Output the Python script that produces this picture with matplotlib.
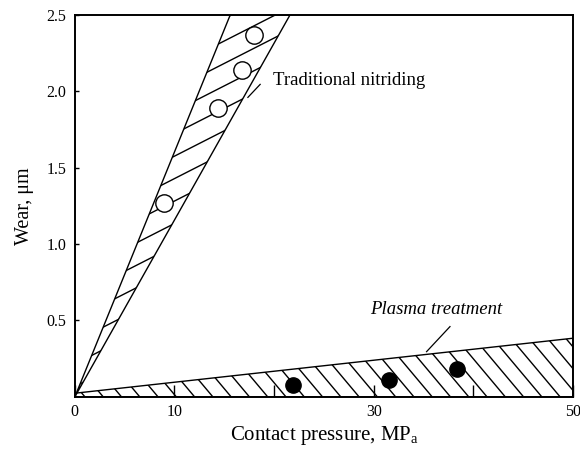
import numpy as np
import matplotlib
matplotlib.use("Agg")
import matplotlib.pyplot as plt
from matplotlib.patches import Polygon
from matplotlib.collections import LineCollection

plt.rcParams['font.family'] = ['Liberation Serif', 'DejaVu Serif']

# open circles - traditional nitriding
nit_x = [9.0, 14.4, 16.8, 17.95]
nit_y = [1.27, 1.89, 2.14, 2.37]
# filled circles - plasma treatment
pla_x = [21.9, 31.5, 38.4]
pla_y = [0.08, 0.11, 0.185]

# scatter band outlines
nit_band = [(0, 0), (15.6, 2.5), (21.6, 2.5)]
pla_band = [(0, 0), (0, 0.024), (50, 0.384), (50, 0)]

xticks = [0, 10, 20, 30, 40, 50]
xlabels = ['0', '10', '', '30', '', '50']
yticks = [0.5, 1.0, 1.5, 2.0, 2.5]
ylabels = ['0.5', '1.0', '1.5', '2.0', '2.5']

fig = plt.figure(figsize=(5.8, 4.5), dpi=100)
ax = fig.add_axes([0.129, 0.118, 0.859, 0.849])
ax.set_xlim(0, 50)
ax.set_ylim(0, 2.5)

W = 0.859 * 580
H = 0.849 * 450


def hatch(ax, patch, angle, spacing):
    # sparse hatch lines (pixel spacing) clipped to the band
    a = np.radians(angle)
    d = np.array([np.cos(a), np.sin(a)])
    n = np.array([-np.sin(a), np.cos(a)])
    c = np.array([W / 2, H / 2])
    L = np.hypot(W, H)
    segs = []
    for off in np.arange(-L, L, spacing):
        p0 = c + n * off - d * L
        p1 = c + n * off + d * L
        segs.append([(p0[0] / W, p0[1] / H), (p1[0] / W, p1[1] / H)])
    lc = LineCollection(segs, colors='black', linewidths=1.0, transform=ax.transAxes)
    ax.add_collection(lc)
    lc.set_clip_path(patch)


p1 = Polygon(nit_band, closed=True, facecolor='none', edgecolor='black', lw=1.0)
ax.add_patch(p1)
hatch(ax, p1, 27, 20)

p2 = Polygon(pla_band, closed=True, facecolor='none', edgecolor='black', lw=1.0)
ax.add_patch(p2)
hatch(ax, p2, -50, 14)

ax.plot(nit_x, nit_y, 'o', ms=12.5, mfc='white', mec='black', mew=1.0, zorder=5)
ax.plot(pla_x, pla_y, 'o', ms=11, mfc='black', mec='black', zorder=5)

# labels with leader lines
ax.text(19.9, 2.07, 'Traditional nitriding', fontsize=13.5, va='center', ha='left')
ax.plot([17.37, 18.6], [1.96, 2.045], color='black', lw=0.9)
ax.text(29.6, 0.57, 'Plasma treatment', fontsize=13.5, style='italic', va='center', ha='left')
ax.plot([35.3, 37.65], [0.296, 0.46], color='black', lw=0.9)

ax.set_xticks(xticks)
ax.set_xticklabels(xlabels, fontsize=11.5)
ax.set_yticks(yticks)
ax.set_yticklabels(ylabels, fontsize=11.5)
ax.tick_params(axis='x', direction='in', length=9, width=1.0, pad=5)
ax.tick_params(axis='y', direction='in', length=3, width=1.0, pad=6)
for s in ax.spines.values():
    s.set_linewidth(1.4)

ax.set_xlabel(r'Contact pressure, MP$_\mathregular{a}$', fontsize=15, labelpad=3)
ax.set_ylabel(r'Wear, μm', fontsize=14.5, labelpad=9)

fig.savefig('out.png', dpi=100)
